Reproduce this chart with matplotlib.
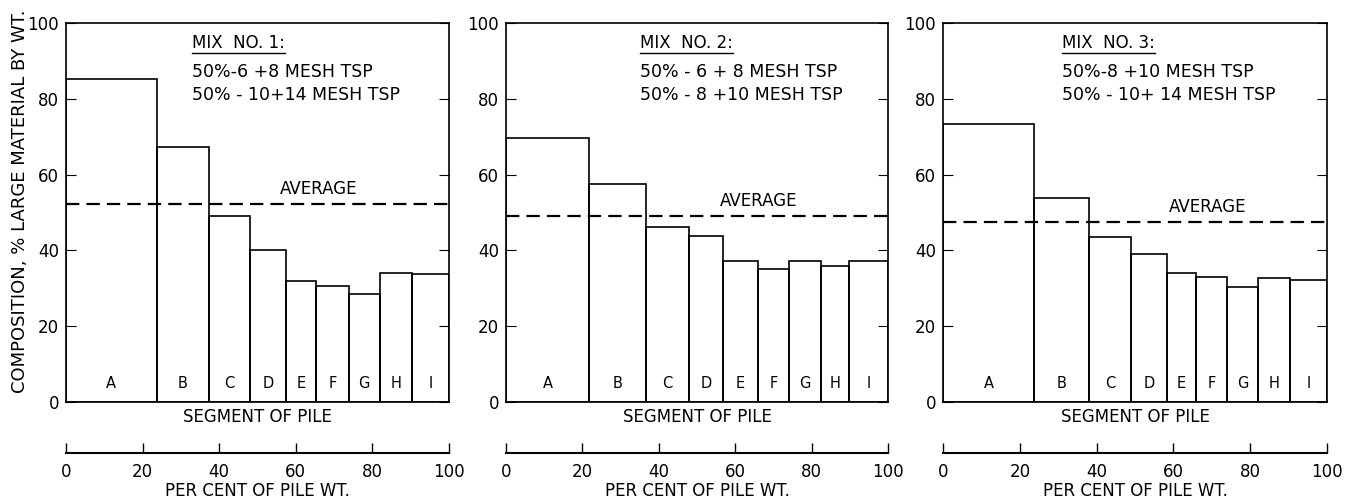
import matplotlib as mpl
mpl.use("Agg")
import matplotlib.pyplot as plt

# segment boundaries, % of pile weight
bounds1 = [0, 23.7, 37.3, 48.0, 57.4, 65.4, 73.8, 81.9, 90.3, 100]
bounds2 = [0, 21.8, 36.6, 48.0, 56.9, 65.9, 74.1, 82.4, 89.8, 100]
bounds3 = [0, 23.7, 38.0, 48.9, 58.3, 65.8, 73.9, 82.1, 90.3, 100]

# composition, % large material by wt.
comp1 = [85.2, 67.2, 49.1, 40.0, 31.8, 30.6, 28.5, 34.0, 33.8]
comp2 = [69.7, 57.5, 46.3, 43.7, 37.1, 35.2, 37.3, 35.8, 37.1]
comp3 = [73.4, 53.7, 43.6, 39.0, 34.1, 33.0, 30.3, 32.8, 32.2]

averages = [52.3, 49.2, 47.6]
segments = ["A", "B", "C", "D", "E", "F", "G", "H", "I"]

titles = ["MIX  NO. 1:", "MIX  NO. 2:", "MIX  NO. 3:"]
mixes = [["50%-6 +8 MESH TSP", "50% - 10+14 MESH TSP"],
         ["50% - 6 + 8 MESH TSP", "50% - 8 +10 MESH TSP"],
         ["50%-8 +10 MESH TSP", "50% - 10+ 14 MESH TSP"]]

plt.rcParams['font.family'] = ['DejaVu Sans']

fig = plt.figure(figsize=(13.47, 4.99), dpi=100)

lefts = [0.049, 0.3757, 0.7001]
widths = [0.2843, 0.2836, 0.2851]
text_x = [0.33, 0.35, 0.31]
avg_x = [66, 66, 69]

panels = [(bounds1, comp1), (bounds2, comp2), (bounds3, comp3)]

axes = []
for i, (bounds, comp) in enumerate(panels):
    ax = fig.add_axes([lefts[i], 0.1944, widths[i], 0.7595])
    axes.append(ax)
    w = [bounds[k + 1] - bounds[k] for k in range(len(comp))]
    ax.bar(bounds[:-1], comp, width=w, align='edge', fill=False,
           edgecolor='black', linewidth=1.2)
    for k, s in enumerate(segments):
        ax.text(bounds[k] + w[k] / 2, 5, s, ha='center', va='center', fontsize=10.5)
    ax.axhline(averages[i], color='black', linewidth=1.6, linestyle=(0, (6, 3.2)))
    ax.text(avg_x[i], averages[i] + 1.4, "AVERAGE", ha='center', va='bottom', fontsize=12)

    ax.set_xlim(0, 100)
    ax.set_ylim(0, 100)
    ax.set_xticks([])
    ax.set_yticks([0, 20, 40, 60, 80, 100])
    ax.tick_params(axis='y', direction='in', left=True, right=True, length=7,
                   labelsize=12, pad=5)
    for sp in ax.spines.values():
        sp.set_linewidth(1.2)
    ax.set_xlabel("SEGMENT OF PILE", fontsize=12, labelpad=4)

    t = ax.text(text_x[i], 0.947, titles[i], transform=ax.transAxes,
                ha='left', va='center', fontsize=12)
    ax.text(text_x[i], 0.871, mixes[i][0], transform=ax.transAxes,
            ha='left', va='center', fontsize=12.5)
    ax.text(text_x[i], 0.81, mixes[i][1], transform=ax.transAxes,
            ha='left', va='center', fontsize=12.5)
    ax._mix_title = t

    sec = ax.secondary_xaxis(-0.1346)
    sec.set_xticks([0, 20, 40, 60, 80, 100])
    sec.tick_params(direction='in', length=7, labelsize=12, pad=7, width=1.0)
    sec.spines['bottom'].set_linewidth(1.5)
    sec.set_xlabel("PER CENT OF PILE WT.", fontsize=12, labelpad=1)

axes[0].set_ylabel("COMPOSITION, % LARGE MATERIAL BY WT.", fontsize=13)
axes[0].yaxis.set_label_coords(-0.097, 0.53)

# underline the mix titles
fig.canvas.draw()
r = fig.canvas.get_renderer()
for ax in axes:
    bb = ax._mix_title.get_window_extent(r).transformed(ax.transAxes.inverted())
    ax.plot([bb.x0, bb.x1], [0.921, 0.921], transform=ax.transAxes,
            color='black', linewidth=1.0, clip_on=False)

fig.savefig("out.png", dpi=100)
